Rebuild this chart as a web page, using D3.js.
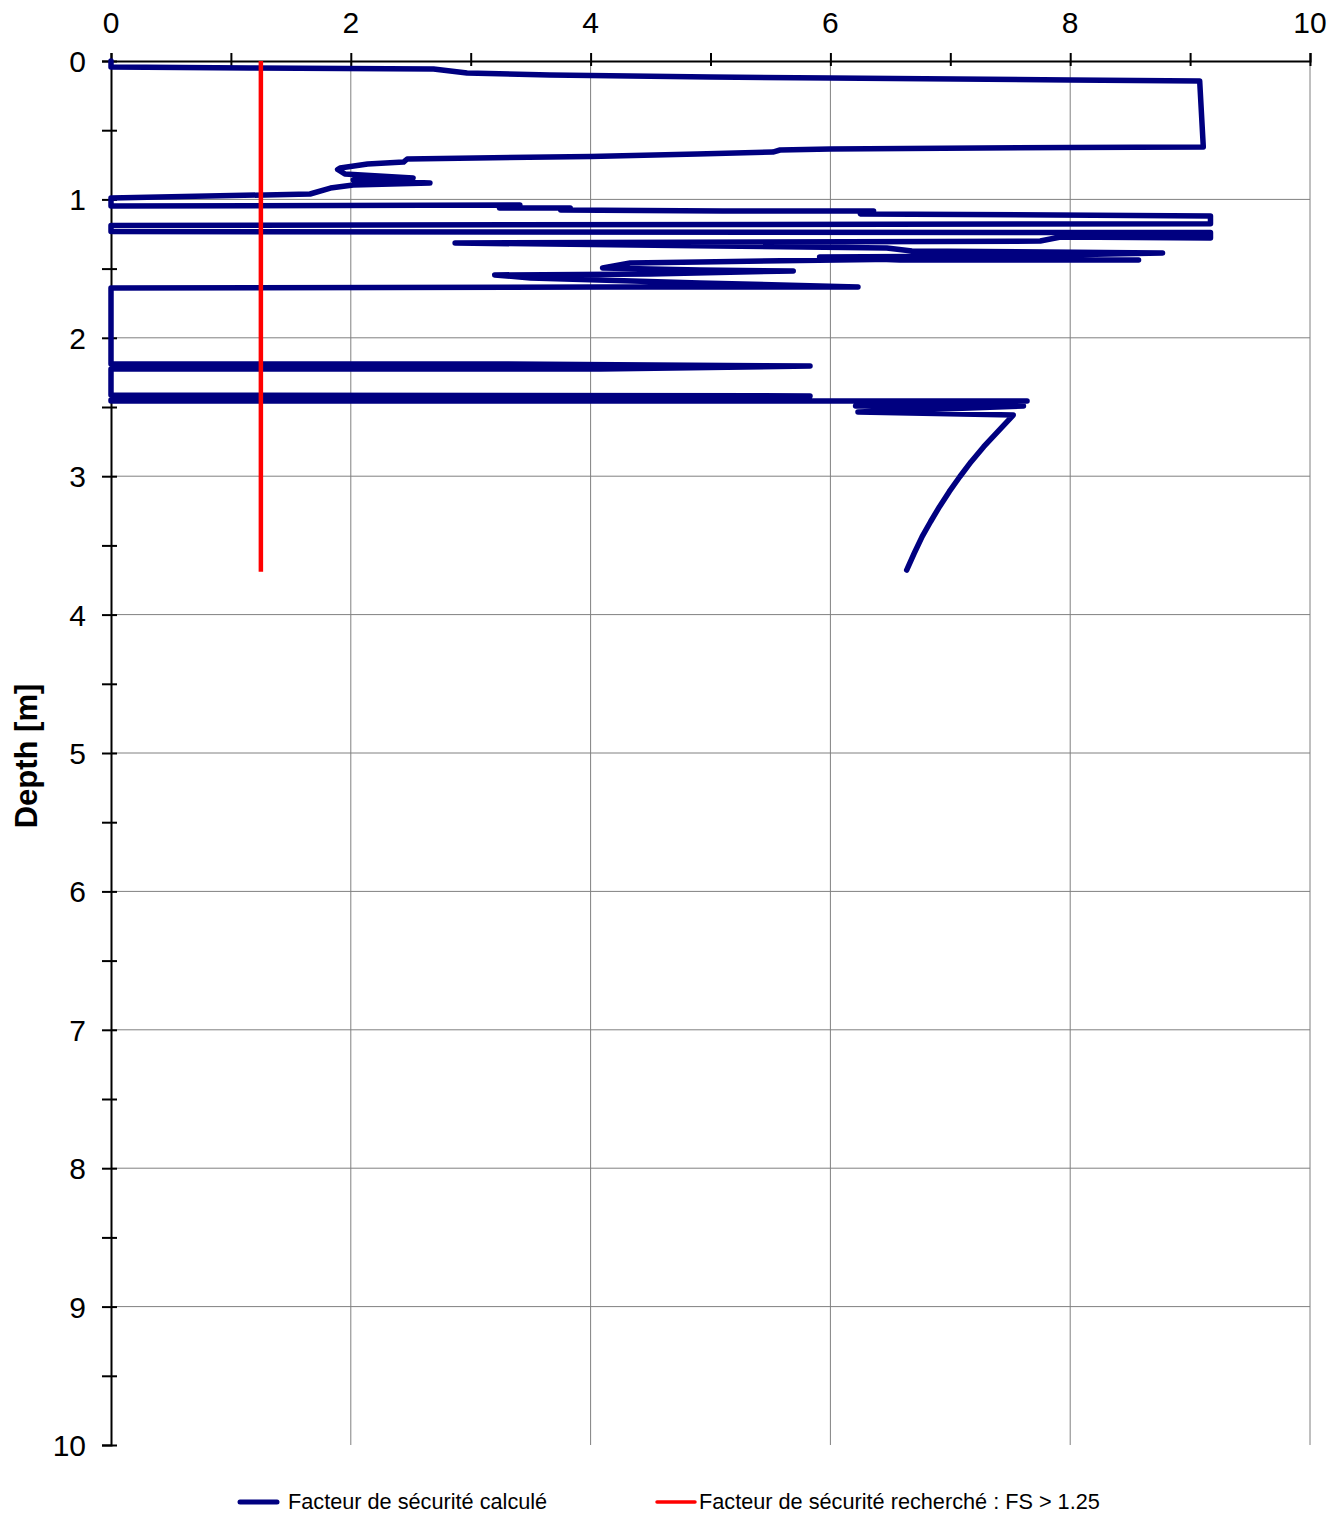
<!DOCTYPE html>
<html>
<head>
<meta charset="utf-8">
<script src="https://cdn.jsdelivr.net/npm/d3@7"></script>
<style>
  html, body { margin: 0; padding: 0; background: #fff; }
  svg { display: block; font-family: "Liberation Sans", Arial, sans-serif; }
</style>
</head>
<body>
<svg id="chart" width="1339" height="1513"></svg>
<script>
// Calculated safety factor profile: FS value and depth [m], in depth order
const fsValues = [
  0.00, 0.00, 1.16, 2.69, 2.97, 3.66, 5.00, 6.00, 8.00, 9.08,
  9.11, 8.00, 6.00, 5.58, 5.52, 4.89, 4.00, 2.47, 2.44, 2.14,
  1.91, 1.89, 1.95, 2.52, 2.02, 2.66, 2.02, 1.83, 1.66, 0.00,
  0.00, 3.41, 3.24, 3.83, 3.75, 5.10, 6.36, 6.25, 9.17, 9.17,
  0.00, 0.00, 9.17, 9.17, 7.92, 7.75, 2.87, 5.05, 6.47, 6.68,
  8.77, 7.42, 5.91, 6.58, 8.57, 6.69, 4.91, 4.33, 4.10, 4.91,
  5.69, 4.50, 3.20, 3.50, 4.91, 6.23, 4.08, 0.00, 0.00, 3.24,
  5.83, 4.08, 0.00, 0.00, 5.83, 2.41, 0.00, 0.00, 5.83, 7.64,
  6.21, 7.61, 6.23, 7.525, 7.396, 7.279, 7.174, 7.079, 6.991, 6.910,
  6.835, 6.765, 6.699, 6.636
];
const depthValues = [
  0.000, 0.043, 0.051, 0.058, 0.087, 0.101, 0.116, 0.123, 0.137, 0.145,
  0.621, 0.625, 0.636, 0.643, 0.658, 0.672, 0.690, 0.708, 0.730, 0.744,
  0.773, 0.784, 0.816, 0.845, 0.860, 0.882, 0.896, 0.918, 0.961, 0.990,
  1.048, 1.040, 1.062, 1.062, 1.077, 1.084, 1.084, 1.105, 1.120, 1.176,
  1.188, 1.232, 1.240, 1.279, 1.272, 1.301, 1.315, 1.337, 1.351, 1.373,
  1.387, 1.409, 1.416, 1.438, 1.438, 1.431, 1.452, 1.460, 1.496, 1.510,
  1.517, 1.539, 1.546, 1.568, 1.604, 1.633, 1.633, 1.640, 2.189, 2.189,
  2.204, 2.225, 2.225, 2.413, 2.420, 2.442, 2.449, 2.457, 2.457, 2.457,
  2.493, 2.493, 2.536, 2.558, 2.678, 2.787, 2.895, 3.004, 3.112, 3.220,
  3.329, 3.437, 3.557, 3.678
];

// Target safety factor (FS > 1.25) over the investigated depth
const targetFs = [1.25, 1.25];
const targetDepth = [0, 3.69];

const xTicks = [0, 2, 4, 6, 8, 10];
const xMinorTicks = [0, 1, 2, 3, 4, 5, 6, 7, 8, 9, 10];
const yTicks = [0, 1, 2, 3, 4, 5, 6, 7, 8, 9, 10];
const yMinorTicks = d3.range(0, 10.01, 0.5);

const legendLabels = [
  "Facteur de sécurité calculé",
  "Facteur de sécurité recherché : FS > 1.25"
];

const NAVY = "#000080";
const RED = "#ff0000";

const svg = d3.select("#chart");
const plot = { left: 111, right: 1310, top: 61, bottom: 1445 };

const x = d3.scaleLinear().domain([0, 10]).range([plot.left, plot.right]);
const y = d3.scaleLinear().domain([0, 10]).range([plot.top, plot.bottom]);

// Gridlines
const grid = svg.append("g");
grid.selectAll("line.vgrid").data(xTicks.filter(d => d > 0)).join("line")
  .attr("x1", d => x(d)).attr("x2", d => x(d))
  .attr("y1", plot.top).attr("y2", plot.bottom)
  .attr("stroke", "#808080").attr("stroke-width", 1);
grid.selectAll("line.hgrid").data(yTicks.filter(d => d > 0 && d < 10)).join("line")
  .attr("x1", plot.left).attr("x2", plot.right)
  .attr("y1", d => y(d)).attr("y2", d => y(d))
  .attr("stroke", "#808080").attr("stroke-width", 1);

// Top x axis
const xAxis = svg.append("g").attr("transform", `translate(0,${plot.top})`)
  .call(d3.axisTop(x).tickValues(xMinorTicks).tickSize(8).tickFormat(""));
xAxis.select(".domain").attr("stroke", "#000").attr("stroke-width", 2);
xAxis.selectAll(".tick line").attr("stroke", "#000").attr("stroke-width", 2)
  .attr("y2", -8).attr("y1", 5);
svg.append("g").selectAll("text").data(xTicks).join("text")
  .attr("x", d => x(d)).attr("y", 33)
  .attr("text-anchor", "middle")
  .attr("font-size", 30)
  .text(d => d);

// Left y axis
const yAxis = svg.append("g").attr("transform", `translate(${plot.left},0)`)
  .call(d3.axisLeft(y).tickValues(yMinorTicks).tickSize(9).tickFormat(""));
yAxis.select(".domain").attr("stroke", "#000").attr("stroke-width", 2);
yAxis.selectAll(".tick line").attr("stroke", "#000").attr("stroke-width", 2)
  .attr("x2", -9).attr("x1", 6);
svg.append("g").selectAll("text").data(yTicks).join("text")
  .attr("x", 86).attr("y", d => y(d) + 11)
  .attr("text-anchor", "end")
  .attr("font-size", 30)
  .text(d => d);

// Axis title
svg.append("text")
  .attr("transform", `translate(37,756) rotate(-90)`)
  .attr("text-anchor", "middle")
  .attr("font-size", 31).attr("font-weight", "bold")
  .text("Depth [m]");

// Series
const line = d3.line().x(d => x(d[0])).y(d => y(d[1]));

const calc = fsValues.map((v, i) => [v, depthValues[i]]);
const target = targetFs.map((v, i) => [v, targetDepth[i]]);

svg.append("path").datum(calc)
  .attr("d", line)
  .attr("fill", "none").attr("stroke", NAVY)
  .attr("stroke-width", 5.5).attr("stroke-linejoin", "round").attr("stroke-linecap", "round");

svg.append("path").datum(target)
  .attr("d", line)
  .attr("fill", "none").attr("stroke", RED)
  .attr("stroke-width", 4.5);

// Legend
const legend = svg.append("g");
const legendItems = [
  { label: legendLabels[0], color: NAVY, x0: 240, x1: 277, tx: 288, width: 5 },
  { label: legendLabels[1], color: RED, x0: 657, x1: 695, tx: 699, width: 3.5 }
];
legendItems.forEach(it => {
  legend.append("line")
    .attr("x1", it.x0).attr("x2", it.x1).attr("y1", 1502).attr("y2", 1502)
    .attr("stroke", it.color).attr("stroke-width", it.width).attr("stroke-linecap", "round");
  legend.append("text")
    .attr("x", it.tx).attr("y", 1509)
    .attr("font-size", 21.7)
    .text(it.label);
});
</script>
</body>
</html>
